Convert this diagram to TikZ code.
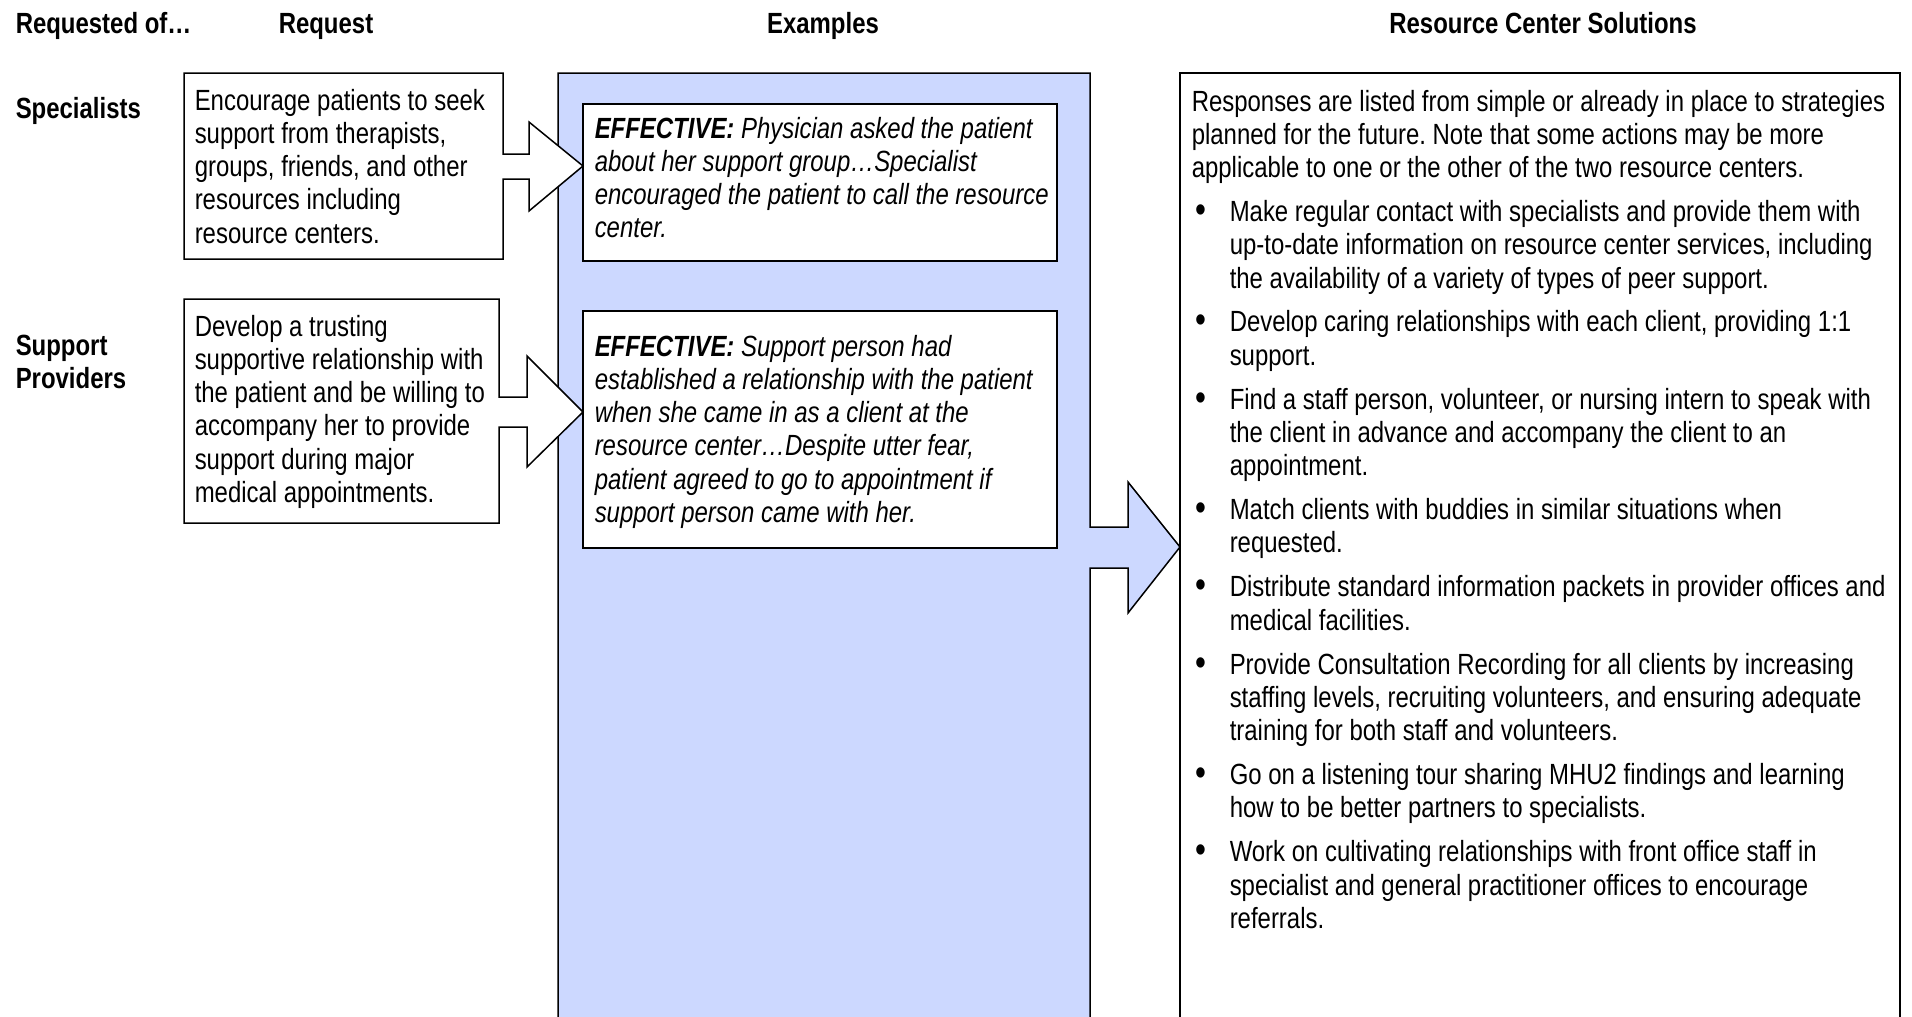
\documentclass[tikz,border=0pt]{standalone}
\usepackage{fontspec}
\setmainfont{Liberation Sans}[FakeStretch=0.82]
\usepackage{tikz}
\definecolor{colblue}{RGB}{204,216,255}
\newcommand{\chartfont}{\fontsize{14.6pt}{16.65pt}\selectfont\frenchspacing}
\newcommand{\dotmark}{\raisebox{-0.5pt}{\scalebox{1.3}{\textbullet}}}

\begin{document}
\begin{tikzpicture}[x=0.5pt,y=-0.5pt,line width=0.75pt,line join=miter,
  txt/.style={font=\chartfont,inner sep=0pt,anchor=base west,
    execute at begin node={\raggedright\spaceskip=3.33pt plus 1pt minus 1pt\relax}},
  head/.style={font=\chartfont\bfseries,inner sep=0pt,anchor=base}]
\useasboundingbox (0,0) rectangle (1912,1017);
% column headings
\node[head,anchor=base west] (hreq) at (15,33) {Requested of…};
\node[head] (hrequest) at (326,33) {Request};
\node[head] (hex) at (823,33) {Examples};
\node[head] (hsol) at (1543,33) {Resource Center Solutions};
% who is asked
\node[head,anchor=base west] (spec) at (15,118) {Specialists};
\node[head,anchor=base west,text width=100pt,align=left] (supp) at (15,355) {Support\\Providers};
% examples column, opens into the big arrow
\draw[fill=colblue] (558,1017) -- (558,73) -- (1090,73) -- (1090,527) -- (1128,527)
  -- (1128,482) -- (1180,547) -- (1128,613) -- (1128,568) -- (1090,568) -- (1090,1017);
\draw[fill=white] (583,104) rectangle (1057,261);
\draw[fill=white] (583,311) rectangle (1057,548);
% request boxes with their arrows
\draw[fill=white] (184,73) -- (503,73) -- (503,154) -- (529,154) -- (529,122) -- (583,166)
  -- (529,211) -- (529,179) -- (503,179) -- (503,259) -- (184,259) -- cycle;
\draw[fill=white] (184,299) -- (499,299) -- (499,397) -- (527,397) -- (527,356) -- (583,412)
  -- (527,467) -- (527,427) -- (499,427) -- (499,523) -- (184,523) -- cycle;
% solutions box
\draw (1180,1017) -- (1180,73) -- (1900,73) -- (1900,1017);

% texts
\node[txt,text width=175pt] (req1) at (194,110) {Encourage patients to seek\\
  support from therapists,\\ groups, friends, and other\\ resources including\\
  resource centers.};
\node[txt,text width=175pt] (req2) at (194,336) {Develop a trusting\\
  supportive relationship with\\ the patient and be willing to\\
  accompany her to provide\\ support during major\\ medical appointments.};
\node[txt,text width=250pt,font=\chartfont\itshape] (ex1) at (594,138)
  {\textbf{EFFECTIVE:} Physician asked the patient\\ about her support group…Specialist\\
  encouraged the patient to call the resource\\ center.};
\node[txt,text width=250pt,font=\chartfont\itshape] (ex2) at (594,356)
  {\textbf{EFFECTIVE:} Support person had\\ established a relationship with the patient\\
  when she came in as a client at the\\ resource center…Despite utter fear,\\
  patient agreed to go to appointment if\\ support person came with her.};
\node[txt,text width=380pt] (sol) at (1191,111) {Responses are listed from simple or already in place to strategies\\
  planned for the future. Note that some actions may be more\\
  applicable to one or the other of the two resource centers.
  \begin{list}{\dotmark}{\setlength{\leftmargin}{19pt}\setlength{\labelsep}{11.5pt}%
    \setlength{\labelwidth}{7.5pt}\setlength{\topsep}{5.3pt}\setlength{\itemsep}{5.3pt}%
    \setlength{\parsep}{0pt}\setlength{\partopsep}{0pt}}
  \item Make regular contact with specialists and provide them with\\
    up-to-date information on resource center services, including\\
    the availability of a variety of types of peer support.
  \item Develop caring relationships with each client, providing 1:1\\ support.
  \item Find a staff person, volunteer, or nursing intern to speak with\\
    the client in advance and accompany the client to an\\ appointment.
  \item Match clients with buddies in similar situations when\\ requested.
  \item Distribute standard information packets in provider offices and\\
    medical facilities.
  \item Provide Consultation Recording for all clients by increasing\\
    staffing levels, recruiting volunteers, and ensuring adequate\\
    training for both staff and volunteers.
  \item Go on a listening tour sharing MHU2 findings and learning\\
    how to be better partners to specialists.
  \item Work on cultivating relationships with front office staff in\\
    specialist and general practitioner offices to encourage\\ referrals.
  \end{list}};
\end{tikzpicture}
\end{document}
